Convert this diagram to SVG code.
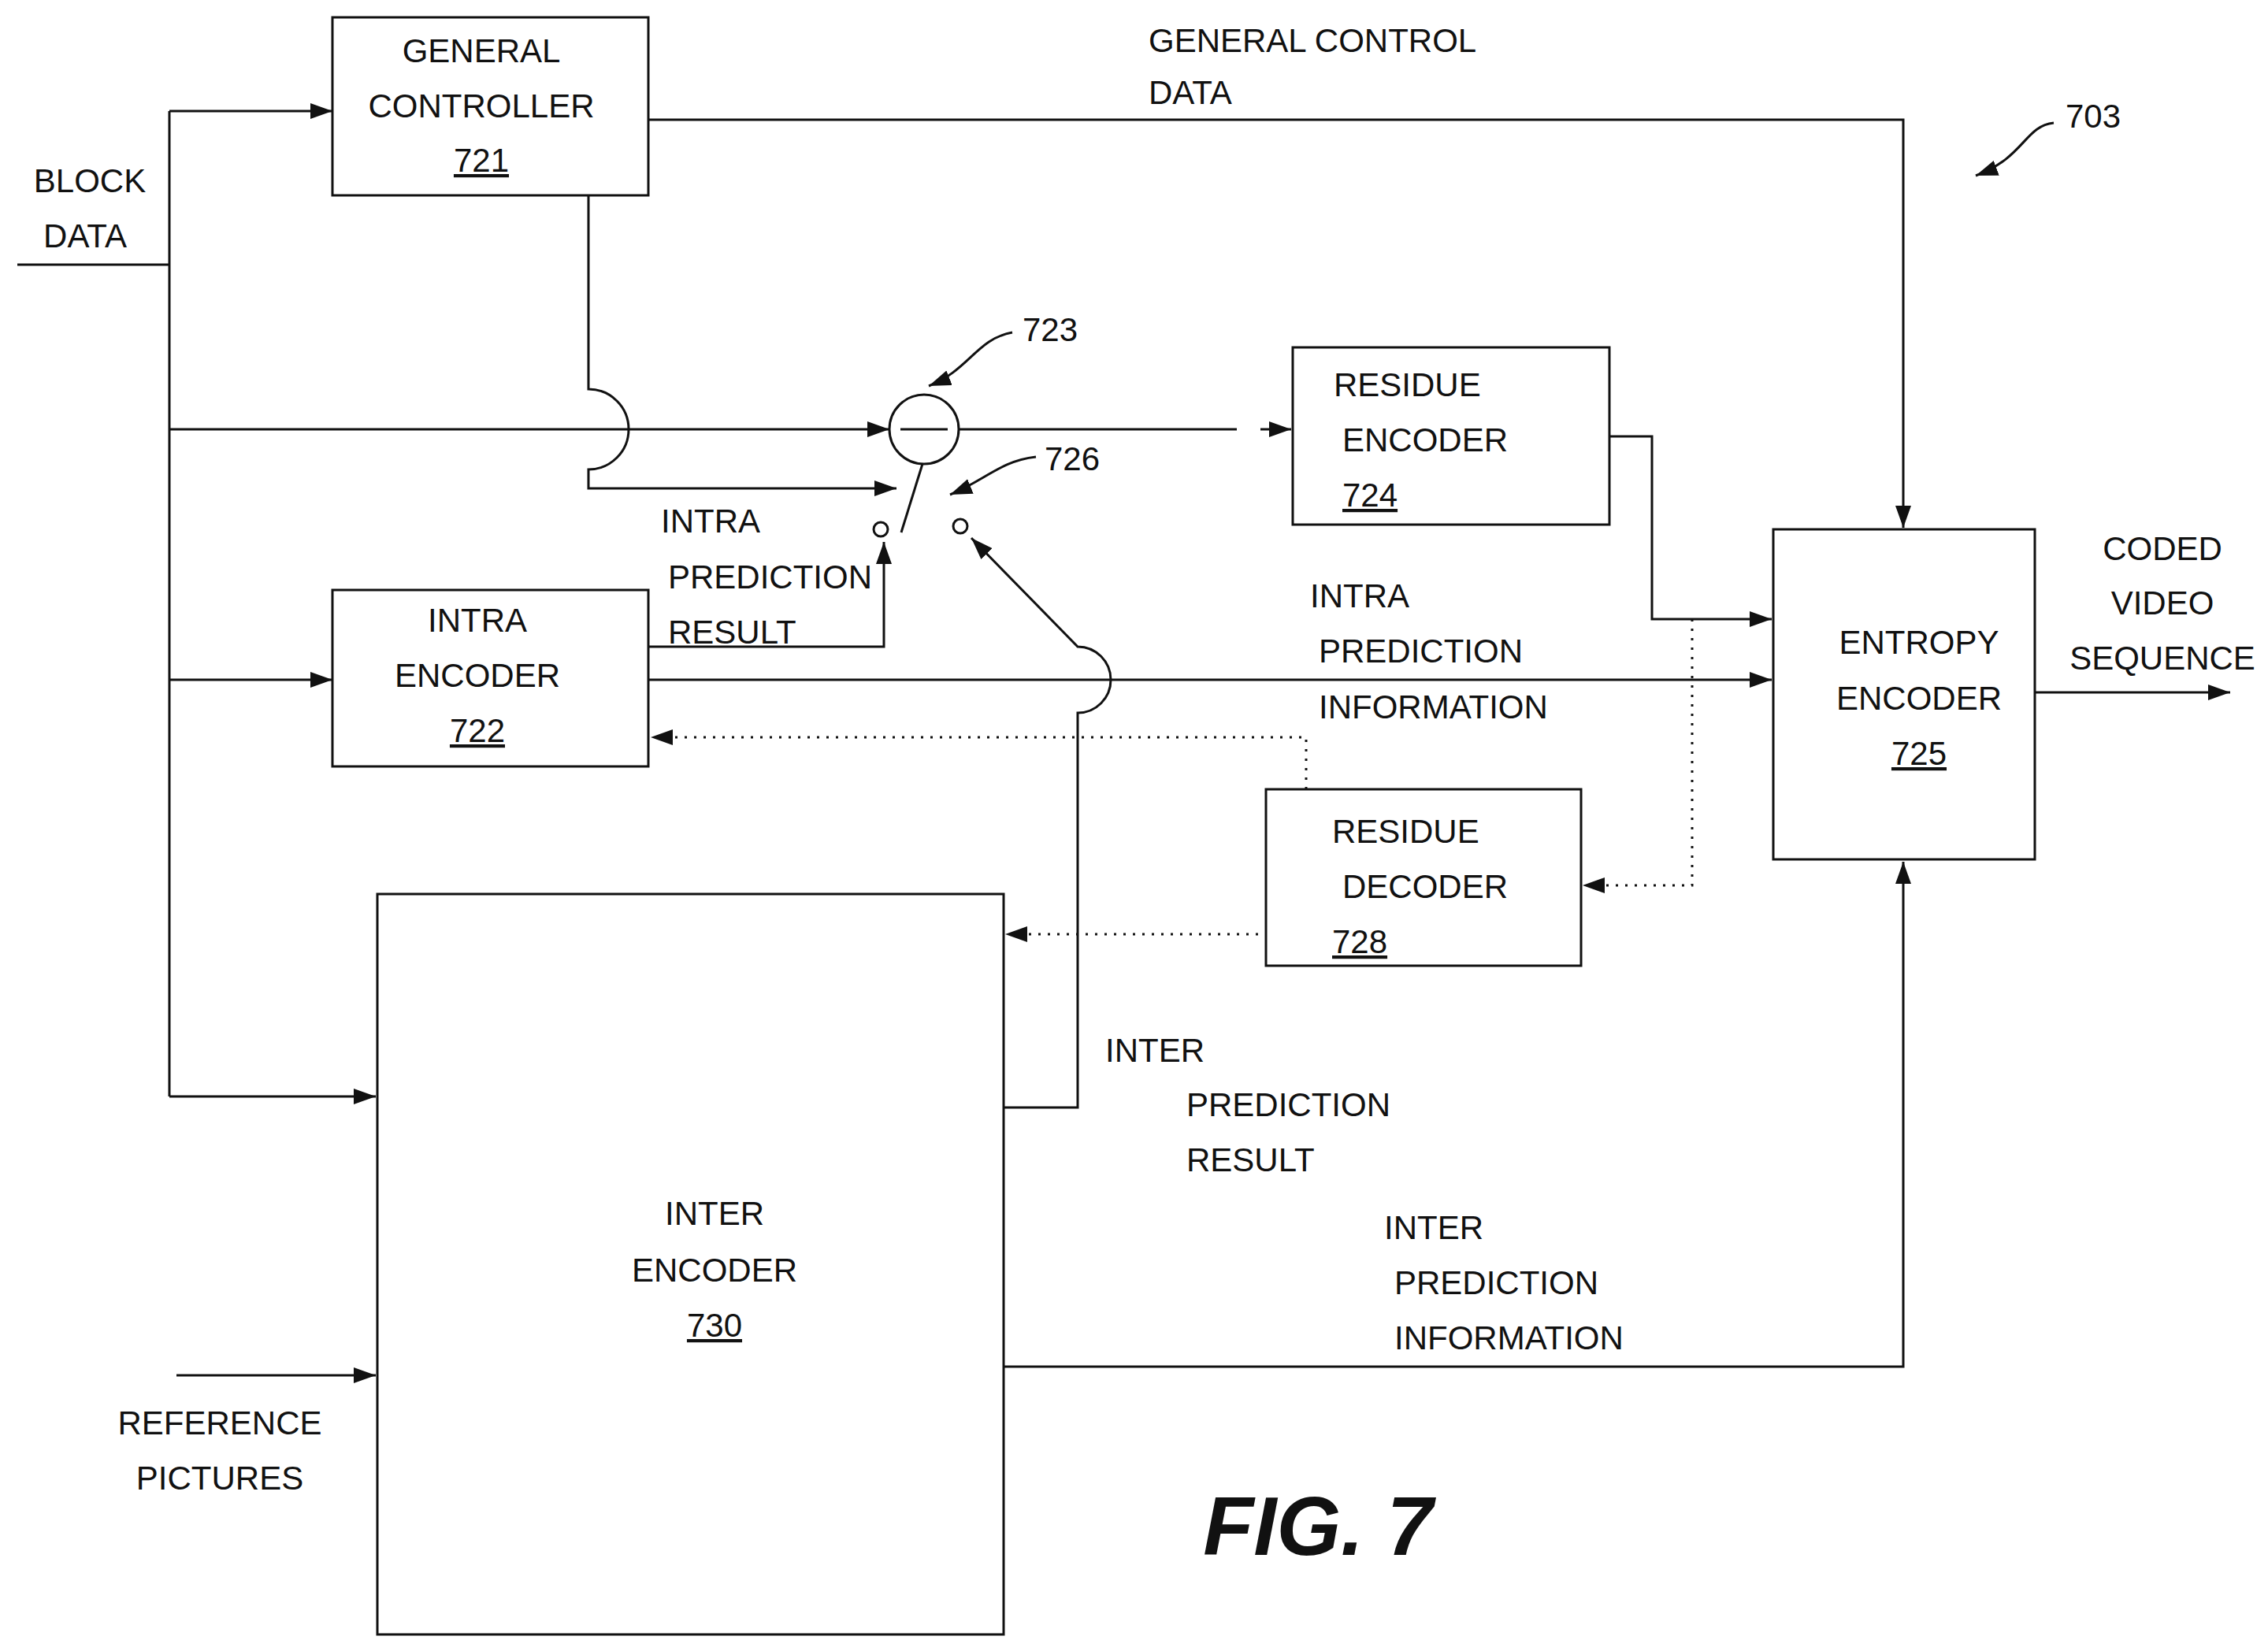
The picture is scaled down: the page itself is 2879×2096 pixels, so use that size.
<svg xmlns="http://www.w3.org/2000/svg" width="2879" height="2096" viewBox="0 0 2879 2096">
<style>
text{font-family:"Liberation Sans",Arial,sans-serif;font-size:42px;fill:#111}
.c{text-anchor:middle}.u{text-decoration:underline}
.b{fill:none;stroke:#111;stroke-width:3}
.l{fill:none;stroke:#111;stroke-width:3}
.d{fill:none;stroke:#111;stroke-width:3;stroke-dasharray:3 9}
</style>
<defs>
<marker id="A" viewBox="0 0 10 10" refX="10" refY="5" markerWidth="28" markerHeight="20" markerUnits="userSpaceOnUse" orient="auto" preserveAspectRatio="none"><path d="M0,0L10,5L0,10z" fill="#111"/></marker></defs>
<rect width="2879" height="2096" fill="#fff"/>
<g id="n721"><rect class="b" x="422" y="22" width="401" height="226"/><text class="c" x="611" y="79">GENERAL</text><text class="c" x="611" y="149">CONTROLLER</text><text class="c u" x="611" y="218">721</text></g>
<g id="n722"><rect class="b" x="422" y="749" width="401" height="224"/><text class="c" x="606" y="802">INTRA</text><text class="c" x="606" y="872">ENCODER</text><text class="c u" x="606" y="942">722</text></g>
<g id="n724"><rect class="b" x="1641" y="441" width="402" height="225"/><text x="1693" y="503">RESIDUE</text><text x="1704" y="573">ENCODER</text><text class="u" x="1704" y="643">724</text></g>
<g id="n725"><rect class="b" x="2251" y="672" width="332" height="419"/><text class="c" x="2436" y="830">ENTROPY</text><text class="c" x="2436" y="901">ENCODER</text><text class="c u" x="2436" y="971">725</text></g>
<g id="n728"><rect class="b" x="1607" y="1002" width="400" height="224"/><text x="1691" y="1070">RESIDUE</text><text x="1704" y="1140">DECODER</text><text class="u" x="1691" y="1210">728</text></g>
<g id="n730"><rect class="b" x="479" y="1135" width="795" height="940"/><text class="c" x="907" y="1555">INTER</text><text class="c" x="907" y="1627">ENCODER</text><text class="c u" x="907" y="1697">730</text></g>
<g id="n723"><circle class="b" cx="1173" cy="545" r="44"/><line class="l" x1="1143" y1="545" x2="1203" y2="545"/></g>
<g id="n726"><circle class="b" cx="1118" cy="672" r="9"/><circle class="b" cx="1219" cy="668" r="9"/><line class="l" x1="1144" y1="676" x2="1171" y2="589"/></g>
<g id="connectors">
<path class="l" d="M22,336H215"/>
<path class="l" d="M215,141V1392"/>
<path class="l" d="M215,141H422" marker-end="url(#A)"/>
<path class="l" d="M215,545H1129" marker-end="url(#A)"/>
<path class="l" d="M215,863H422" marker-end="url(#A)"/>
<path class="l" d="M215,1392H477" marker-end="url(#A)"/>
<path class="l" d="M747,248V494A51,51 0 0 1 747,596V620H1138" marker-end="url(#A)"/>
<path class="l" d="M1217,545H1570"/>
<path class="l" d="M1600,545H1639" marker-end="url(#A)"/>
<path class="l" d="M823,821H1122V688" marker-end="url(#A)"/>
<path class="l" d="M823,863H2249" marker-end="url(#A)"/>
<path class="l" d="M1274,1406H1368V905A42,42 0 0 0 1368,821L1233,683" marker-end="url(#A)"/>
<path class="l" d="M2043,554H2097V786H2249" marker-end="url(#A)"/>
<path class="d" d="M2148,786V1124H2009" marker-end="url(#A)"/>
<path class="d" d="M1658,1002V936H826" marker-end="url(#A)"/>
<path class="d" d="M1597,1186H1276" marker-end="url(#A)"/>
<path class="l" d="M823,152H2416V670" marker-end="url(#A)"/>
<path class="l" d="M1274,1735H2416V1094" marker-end="url(#A)"/>
<path class="l" d="M2583,879H2831" marker-end="url(#A)"/>
<path class="l" d="M224,1746H477" marker-end="url(#A)"/>
<path class="l" d="M2607,156C2570,160 2570,200 2508,223" marker-end="url(#A)"/>
<path class="l" d="M1285,422C1240,430 1230,470 1179,490" marker-end="url(#A)"/>
<path class="l" d="M1315,580C1270,585 1250,610 1206,628" marker-end="url(#A)"/>
</g>
<text x="114" y="244" class="c">BLOCK</text><text x="108" y="314" class="c">DATA</text>
<text x="1458" y="66">GENERAL CONTROL</text><text x="1458" y="132">DATA</text>
<text x="1298" y="433">723</text><text x="1326" y="597">726</text><text x="2622" y="162">703</text>
<text x="839" y="676">INTRA</text><text x="848" y="747">PREDICTION</text><text x="848" y="817">RESULT</text>
<text x="1663" y="771">INTRA</text><text x="1674" y="841">PREDICTION</text><text x="1674" y="912">INFORMATION</text>
<text class="c" x="2745" y="711">CODED</text><text class="c" x="2745" y="780">VIDEO</text><text class="c" x="2745" y="850">SEQUENCE</text>
<text x="1403" y="1348">INTER</text><text x="1506" y="1417">PREDICTION</text><text x="1506" y="1487">RESULT</text>
<text x="1757" y="1573">INTER</text><text x="1770" y="1643">PREDICTION</text><text x="1770" y="1713">INFORMATION</text>
<text class="c" x="279" y="1821">REFERENCE</text><text class="c" x="279" y="1891">PICTURES</text>
<text class="c" x="1673" y="1974" style="font-size:105px;font-style:italic;font-weight:bold">FIG. 7</text>
</svg>
